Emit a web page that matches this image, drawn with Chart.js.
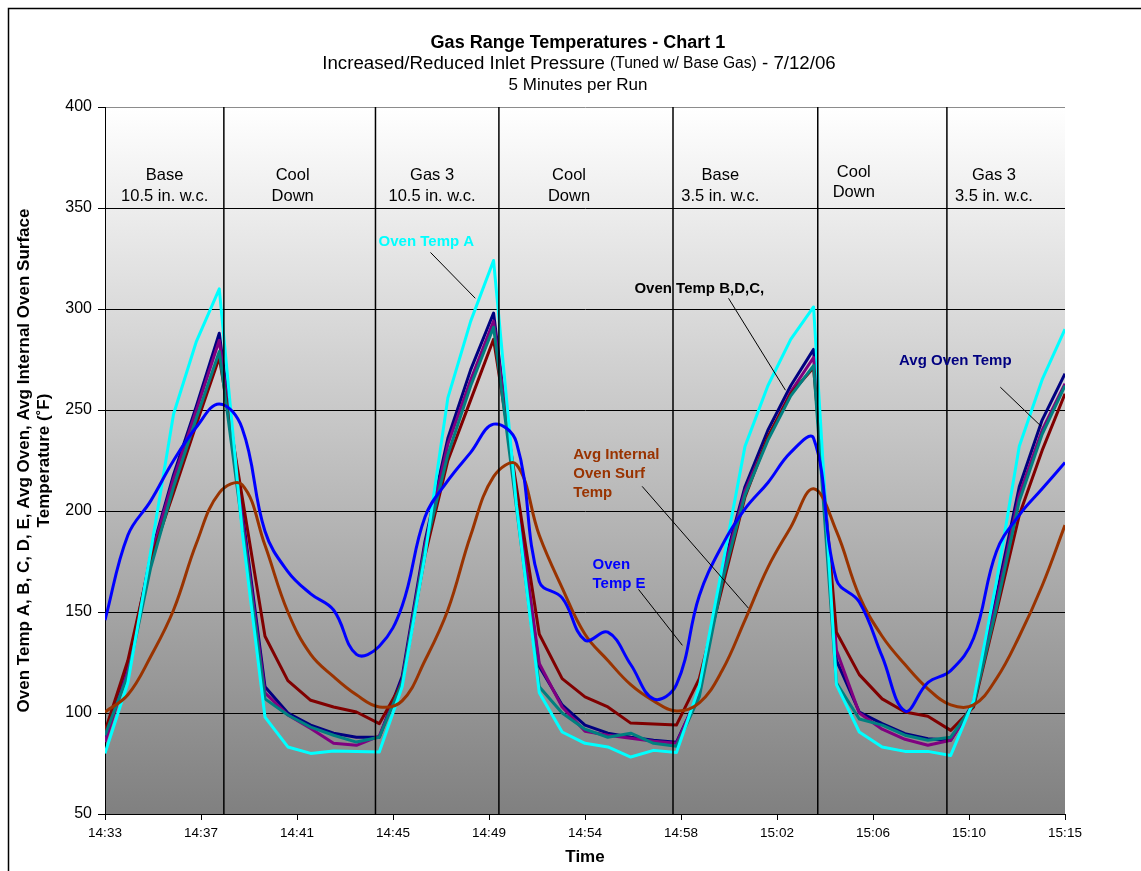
<!DOCTYPE html>
<html>
<head>
<meta charset="utf-8">
<title>Gas Range Temperatures - Chart 1</title>
<script src="https://cdn.jsdelivr.net/npm/chart.js@4.4.1/dist/chart.umd.min.js"></script>
<style>
  html, body { margin: 0; padding: 0; background: #ffffff; }
  canvas { display: block; }
</style>
</head>
<body>
<canvas id="chart" width="1141" height="871"></canvas>
<script>
// ---- Data -------------------------------------------------------------
// One reading per minute, 14:33 through 15:15
const sampleTimes = [
  '14:33','14:34','14:35','14:36','14:37','14:38','14:39','14:40','14:41','14:42',
  '14:43','14:44','14:45','14:46','14:47','14:48','14:49','14:50','14:51','14:52',
  '14:53','14:54','14:55','14:56','14:57','14:58','14:59','15:00','15:01','15:02',
  '15:03','15:04','15:05','15:06','15:07','15:08','15:09','15:10','15:11','15:12',
  '15:13','15:14','15:15'
];

// Axis tick labels (major unit = 4.2 minutes)
const tickLabels = ['14:33','14:37','14:41','14:45','14:49','14:54','14:58','15:02','15:06','15:10','15:15'];

const ovenTempA = [
  80, 115, 180, 248, 284, 310, 190, 98, 83.2, 80, 81.2, 81, 80.7,
  113, 178, 256, 294, 324, 203, 110, 90.6, 85, 83.2, 78.2, 81.5, 80.4,
  113, 172, 232, 262, 285, 301, 114, 90.6, 83.2, 81, 81, 79,
  106, 165, 232, 265, 290
];
const ovenTempB = [
  85.6, 121, 177, 216, 250, 284.5, 197, 110, 99, 92.3, 85, 84, 88.6,
  116, 183, 233, 265, 294, 209, 124.5, 103, 91, 89, 87.5, 86, 85,
  110, 168, 210, 236, 259, 276, 131, 100, 92, 87, 84, 86.5,
  104, 155, 208, 240, 263
];
const ovenTempC = [
  89, 118.7, 172, 212, 246, 279, 193, 107, 99, 93, 89, 85.6, 88,
  115, 181, 228, 262, 291, 202, 113, 100, 92, 88, 90, 85, 83.5,
  108, 165, 208, 235, 257, 272, 115, 97, 94, 89, 86.5, 88,
  104, 152, 205, 238, 262
];
const ovenTempD = [
  91, 126, 176, 209, 243, 276, 207, 138, 116, 106.3, 103, 100.5, 94.7,
  115, 178, 225, 255, 285, 212, 139, 117, 108, 103, 95, 94.5, 94,
  117, 162, 207, 236.6, 258, 271, 140, 119, 107, 100.5, 98.4, 91.4,
  103, 150, 198, 230, 258
];
const ovenTempE = [
  146, 188, 205, 225, 241.6, 253, 241, 190, 170, 159, 151, 129, 133,
  153, 197, 215, 229, 243, 234, 165, 157, 136, 140, 124, 107, 114,
  158, 183, 201, 214, 229, 236, 166, 155, 128, 101, 115, 121,
  137, 180, 198, 211, 224
];
const avgOvenTemp = [
  87, 122, 178, 218, 252, 288, 200, 113, 100, 94, 90, 88, 88,
  118, 185, 236, 270, 298, 205, 123, 104, 94, 90, 88, 86.5, 85.5,
  110, 170, 212, 240, 262, 280, 126, 100.5, 94.7, 89.8, 87.3, 86.5,
  105, 158, 212, 245, 268
];
const avgInternalSurf = [
  100.5, 109, 128, 151, 184, 209, 213, 183, 150, 129, 118, 109, 103,
  106, 126, 151, 188, 217, 223, 188, 162, 139, 126, 114, 106, 101,
  105, 121, 146, 172, 192, 211, 190, 158, 138, 124, 112, 104,
  104, 117, 138, 163, 193
];

// Times at which each run ended (hh:mm:ss)
const runEdges = ['14:38:12','14:44:50','14:50:14','14:57:51','15:04:11','15:09:50'];

// Run captions (two lines each)
const runCaptions = [
  ['Base', '10.5 in. w.c.'],
  ['Cool', 'Down'],
  ['Gas 3', '10.5 in. w.c.'],
  ['Cool', 'Down'],
  ['Base', '3.5 in. w.c.'],
  ['Cool', 'Down'],
  ['Gas 3', '3.5 in. w.c.']
];

// ---- Helpers ----------------------------------------------------------
const START = 14 * 60 + 33;
function toMinutes(str) {
  const p = str.split(':').map(Number);
  return p[0] * 60 + p[1] + (p[2] || 0) / 60 - START;
}
const sampleMinutes = sampleTimes.map(toMinutes);
const edgeMinutes = runEdges.map(toMinutes);
const MAJOR_UNIT = 4.2;

const FONT = '"Liberation Sans", Arial, Helvetica, sans-serif';

function series(label, values, color, smooth, order) {
  return {
    label: label,
    data: values.map((v, i) => ({ x: sampleMinutes[i], y: v })),
    borderColor: color,
    backgroundColor: color,
    borderWidth: 3,
    pointRadius: 0,
    fill: false,
    tension: smooth ? 0.4 : 0,
    borderJoinStyle: 'round',
    order: order
  };
}

const datasets = [
  series('Avg Oven Temp', avgOvenTemp, '#000080', false, 8),
  series('Oven Temp B', ovenTempB, '#800080', false, 7),
  series('Oven Temp D', ovenTempD, '#800000', false, 6),
  series('Oven Temp C', ovenTempC, '#008080', false, 5),
  series('Oven Temp A', ovenTempA, '#00FFFF', false, 4),
  series('Avg Internal Oven Surf Temp', avgInternalSurf, '#993300', true, 3),
  series('Oven Temp E', ovenTempE, '#0000FF', true, 2)
];

// Run divider lines, full height of the value axis
edgeMinutes.forEach(m => {
  datasets.push({
    label: 'divider',
    data: [{ x: m, y: 50 }, { x: m, y: 400 }],
    borderColor: '#000000',
    borderWidth: 1.5,
    pointRadius: 0,
    fill: false,
    order: 1
  });
});

// Caption placement (minutes, °F) for each run caption line
const captionPlacement = [
  [[2.61, 366.2], [2.61, 355.9]],
  [[8.21, 366.2], [8.21, 355.9]],
  [[14.31, 366.2], [14.31, 355.9]],
  [[20.30, 366.2], [20.30, 355.9]],
  [[26.92, 366.2], [26.92, 355.9]],
  [[32.76, 367.8], [32.76, 357.8]],
  [[38.89, 366.2], [38.89, 355.9]]
];

// Series call-outs: text lines, anchor, alignment, colour and leader line (minutes, °F)
const callouts = [
  { lines: ['Oven Temp A'], at: [14.06, 333.0], align: 'center', color: '#00FFFF',
    leader: [[14.24, 328.0], [16.2, 305.3]] },
  { lines: ['Oven Temp B,D,C,'], at: [26.0, 309.8], align: 'center', color: '#000000',
    leader: [[27.28, 305.3], [29.77, 259.8]] },
  { lines: ['Avg Oven Temp'], at: [37.2, 274.1], align: 'center', color: '#000080',
    leader: [[39.17, 261.3], [40.96, 241.9]] },
  { lines: ['Avg Internal', 'Oven Surf', 'Temp'], at: [20.49, 227.6], align: 'left', color: '#993300',
    leader: [[23.5, 212.2], [28.15, 151.9]] },
  { lines: ['Oven', 'Temp E'], at: [21.33, 173.1], align: 'left', color: '#0000FF',
    leader: [[23.34, 161.2], [25.26, 133.5]] }
];

// ---- Plugins ----------------------------------------------------------
const backdrop = {
  id: 'backdrop',
  beforeDraw(chart) {
    const { ctx, chartArea: a } = chart;
    ctx.save();
    ctx.fillStyle = '#ffffff';
    ctx.fillRect(0, 0, chart.width, chart.height);
    // outer frame
    ctx.strokeStyle = '#000000';
    ctx.lineWidth = 1.5;
    ctx.strokeRect(8.5, 8.5, chart.width + 20, chart.height + 20);
    // plot area gradient
    const g = ctx.createLinearGradient(0, a.top, 0, a.bottom);
    g.addColorStop(0, '#ffffff');
    g.addColorStop(1, '#808080');
    ctx.fillStyle = g;
    ctx.fillRect(a.left, a.top, a.right - a.left, a.bottom - a.top);
    ctx.restore();
  }
};

const labels = {
  id: 'labels',
  afterDatasetsDraw(chart) {
    const { ctx, scales: { x, y } } = chart;
    ctx.save();
    ctx.textBaseline = 'middle';

    // run captions
    ctx.fillStyle = '#000000';
    ctx.font = '16.5px ' + FONT;
    ctx.textAlign = 'center';
    runCaptions.forEach((cap, i) => {
      cap.forEach((line, j) => {
        const p = captionPlacement[i][j];
        ctx.fillText(line, x.getPixelForValue(p[0]), y.getPixelForValue(p[1]));
      });
    });

    // call-outs with leader lines
    callouts.forEach(c => {
      ctx.strokeStyle = '#000000';
      ctx.lineWidth = 1;
      ctx.beginPath();
      ctx.moveTo(x.getPixelForValue(c.leader[0][0]), y.getPixelForValue(c.leader[0][1]));
      ctx.lineTo(x.getPixelForValue(c.leader[1][0]), y.getPixelForValue(c.leader[1][1]));
      ctx.stroke();
      ctx.fillStyle = c.color;
      ctx.font = 'bold 15px ' + FONT;
      ctx.textAlign = c.align;
      const px = x.getPixelForValue(c.at[0]);
      const py = y.getPixelForValue(c.at[1]);
      c.lines.forEach((line, j) => ctx.fillText(line, px, py + j * 19));
    });

    ctx.restore();
  },
  afterDraw(chart) {
    const { ctx, chartArea: a } = chart;
    ctx.save();
    ctx.fillStyle = '#000000';
    ctx.textBaseline = 'middle';
    ctx.textAlign = 'center';
    const cx = 578;

    ctx.font = 'bold 18px ' + FONT;
    ctx.fillText('Gas Range Temperatures - Chart 1', cx, 43);

    // subtitle with a smaller parenthetical
    const parts = [
      ['Increased/Reduced Inlet Pressure ', '18.7px ' + FONT],
      ['(Tuned w/ Base Gas)', '15.6px ' + FONT],
      [' - 7/12/06', '18.7px ' + FONT]
    ];
    let total = 0;
    parts.forEach(p => { ctx.font = p[1]; total += ctx.measureText(p[0]).width; });
    let sx = cx + 1 - total / 2;
    ctx.textAlign = 'left';
    parts.forEach(p => {
      ctx.font = p[1];
      ctx.fillText(p[0], sx, 64);
      sx += ctx.measureText(p[0]).width;
    });

    ctx.textAlign = 'center';
    ctx.font = '17px ' + FONT;
    ctx.fillText('5 Minutes per Run', cx, 85);

    // axis titles
    ctx.font = 'bold 17px ' + FONT;
    ctx.fillText('Time', 585, 857);

    const midY = (a.top + a.bottom) / 2;
    ctx.save();
    ctx.translate(24, midY);
    ctx.rotate(-Math.PI / 2);
    ctx.font = 'bold 17px ' + FONT;
    ctx.fillText('Oven Temp A, B, C, D, E, Avg Oven, Avg Internal Oven Surface', 0, 0);
    ctx.fillText('Temperature (\u02DAF)', 0, 20);
    ctx.restore();

    ctx.restore();
  }
};

// ---- Chart ------------------------------------------------------------
new Chart(document.getElementById('chart'), {
  type: 'line',
  data: { datasets: datasets },
  plugins: [backdrop, labels],
  options: {
    responsive: false,
    animation: false,
    events: [],
    layout: { padding: { left: 0, right: 76, top: 107, bottom: 0 } },
    plugins: {
      legend: { display: false },
      tooltip: { enabled: false },
      title: { display: false }
    },
    scales: {
      x: {
        type: 'linear',
        min: 0,
        max: toMinutes('15:15'),
        afterFit(s) { s.height = 57; },
        afterBuildTicks(s) {
          s.ticks = tickLabels.map((_, i) => ({ value: i * MAJOR_UNIT }));
        },
        ticks: {
          autoSkip: false,
          maxRotation: 0,
          padding: 5,
          color: '#000000',
          font: { family: FONT, size: 13.5 },
          callback: (v, i) => tickLabels[i]
        },
        grid: {
          drawOnChartArea: false,
          drawTicks: true,
          tickLength: 6,
          tickColor: '#000000',
          lineWidth: 1
        },
        border: { display: true, color: '#000000', width: 1 }
      },
      y: {
        min: 50,
        max: 400,
        afterFit(s) { s.width = 105; },
        ticks: {
          stepSize: 50,
          padding: 6,
          color: '#000000',
          font: { family: FONT, size: 16 }
        },
        grid: {
          color: c => (c.tick && c.tick.value === 400 ? '#8c8c8c' : '#000000'),
          tickColor: '#000000',
          tickLength: 7,
          lineWidth: 1
        },
        border: { display: true, color: '#000000', width: 1 }
      }
    }
  }
});
</script>
</body>
</html>
